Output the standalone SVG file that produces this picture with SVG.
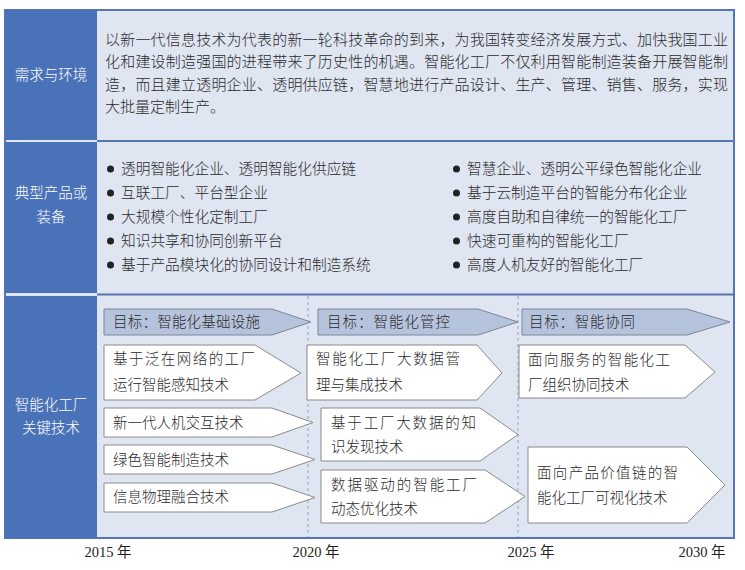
<svg xmlns="http://www.w3.org/2000/svg" width="745" height="570" viewBox="0 0 745 570">
<style>
  .t{font-family:"Liberation Serif","Noto Sans CJK SC",serif;font-size:14.5px;fill:#2a2a2a;font-weight:300}
  .p{font-size:15px}
  .b{font-size:14.7px}
  .lab{font-family:"Liberation Serif","Noto Sans CJK SC",serif;font-size:14.5px;fill:#ffffff;text-anchor:middle;font-weight:300}
  .yr{font-family:"Liberation Serif","Noto Sans CJK SC",serif;font-size:14.5px;fill:#222;text-anchor:middle}
  .goal{fill:#b6c3dd;stroke:#7d8798;stroke-width:1}
  .box{fill:#ffffff;stroke:#8a8a8a;stroke-width:1}
  .blue{fill:#4a72b8}
  .dash{stroke:#8ea2c8;stroke-width:1;stroke-dasharray:3 3;fill:none}
  .sep{stroke:#5775b0;stroke-width:2}
</style>
<rect x="0" y="0" width="745" height="570" fill="#ffffff"/>
<!-- frame -->
<g id="frame">
  <rect x="5" y="10" width="729" height="528" fill="#dfe5f1" stroke="#5775b0" stroke-width="2"/>
  <rect class="blue" x="5" y="10" width="92" height="130"/>
  <rect class="blue" x="5" y="142" width="92" height="151"/>
  <rect class="blue" x="5" y="296" width="92" height="242"/>
  <line class="sep" x1="97" y1="141" x2="734" y2="141"/>
  <line class="sep" x1="97" y1="294.5" x2="734" y2="294.5"/>
</g>
<g id="timeline">
  <line class="dash" x1="308" y1="296" x2="308" y2="537"/>
  <line class="dash" x1="518" y1="296" x2="518" y2="537"/>
</g>
<!-- row 1 -->
<g id="row-demand">
  <text class="lab" x="51" y="80">需求与环境</text>
  <text class="t p" x="105" y="45" textLength="623" lengthAdjust="spacing">以新一代信息技术为代表的新一轮科技革命的到来，为我国转变经济发展方式、加快我国工业</text>
  <text class="t p" x="105" y="67" textLength="623" lengthAdjust="spacing">化和建设制造强国的进程带来了历史性的机遇。智能化工厂不仅利用智能制造装备开展智能制</text>
  <text class="t p" x="105" y="90" textLength="623" lengthAdjust="spacing">造，而且建立透明企业、透明供应链，智慧地进行产品设计、生产、管理、销售、服务，实现</text>
  <text class="t p" x="105" y="112">大批量定制生产。</text>
</g>
<!-- row 2 -->
<g id="row-products">
  <text class="lab" x="51" y="198">典型产品或</text>
  <text class="lab" x="51" y="222">装备</text>
  <g fill="#222">
    <circle cx="110.5" cy="169" r="3.5"/><circle cx="110.5" cy="193" r="3.5"/><circle cx="110.5" cy="217" r="3.5"/><circle cx="110.5" cy="241" r="3.5"/><circle cx="110.5" cy="265" r="3.5"/>
    <circle cx="456.5" cy="169" r="3.5"/><circle cx="456.5" cy="193" r="3.5"/><circle cx="456.5" cy="217" r="3.5"/><circle cx="456.5" cy="241" r="3.5"/><circle cx="456.5" cy="265" r="3.5"/>
  </g>
  <text class="t b" x="121" y="174">透明智能化企业、透明智能化供应链</text>
  <text class="t b" x="121" y="198">互联工厂、平台型企业</text>
  <text class="t b" x="121" y="222">大规模个性化定制工厂</text>
  <text class="t b" x="121" y="246">知识共享和协同创新平台</text>
  <text class="t b" x="121" y="270">基于产品模块化的协同设计和制造系统</text>
  <text class="t b" x="467" y="174">智慧企业、透明公平绿色智能化企业</text>
  <text class="t b" x="467" y="198">基于云制造平台的智能分布化企业</text>
  <text class="t b" x="467" y="222">高度自助和自律统一的智能化工厂</text>
  <text class="t b" x="467" y="246">快速可重构的智能化工厂</text>
  <text class="t b" x="467" y="270">高度人机友好的智能化工厂</text>
</g>
<!-- row 3 -->
<g id="row-tech-label">
  <text class="lab" x="51" y="410">智能化工厂</text>
  <text class="lab" x="51" y="433">关键技术</text>
</g>
<g id="goal-1">
  <polygon class="goal" points="104,309 272,309 311,322 272,335 104,335"/>
  <text class="t" x="113" y="327" textLength="147" lengthAdjust="spacing">目标：智能化基础设施</text>
</g>
<g id="goal-2">
  <polygon class="goal" points="318,309 478,309 518,322 478,335 318,335"/>
  <text class="t" x="327" y="327" textLength="123" lengthAdjust="spacing">目标：智能化管控</text>
</g>
<g id="goal-3">
  <polygon class="goal" points="522,309 687,309 730,322 687,335 522,335"/>
  <text class="t" x="529" y="327" textLength="106" lengthAdjust="spacing">目标：智能协同</text>
</g>
<g id="tech-a">
  <polygon class="box" points="104,345 255,345 301,373 255,400 104,400"/>
  <text class="t" x="113" y="364" textLength="142" lengthAdjust="spacing">基于泛在网络的工厂</text>
  <text class="t" x="113" y="390">运行智能感知技术</text>
</g>
<g id="tech-b">
  <polygon class="box" points="307,345 477,345 502,373 477,400 307,400"/>
  <text class="t" x="316" y="364" textLength="144" lengthAdjust="spacing">智能化工厂大数据管</text>
  <text class="t" x="316" y="390">理与集成技术</text>
</g>
<g id="tech-c">
  <polygon class="box" points="519,345 685,345 715,372 685,398 519,398"/>
  <text class="t" x="528" y="365" textLength="142" lengthAdjust="spacing">面向服务的智能化工</text>
  <text class="t" x="528" y="390">厂组织协同技术</text>
</g>
<g id="tech-d">
  <polygon class="box" points="104,408 272,408 313,422.5 272,437 104,437"/>
  <text class="t" x="113" y="428">新一代人机交互技术</text>
</g>
<g id="tech-e">
  <polygon class="box" points="104,445 272,445 315,459.5 272,474 104,474"/>
  <text class="t" x="113" y="465">绿色智能制造技术</text>
</g>
<g id="tech-f">
  <polygon class="box" points="104,483 272,483 315,497.5 272,512 104,512"/>
  <text class="t" x="113" y="502">信息物理融合技术</text>
</g>
<g id="tech-g">
  <polygon class="box" points="321,408 480,408 518,434.5 480,461 321,461"/>
  <text class="t" x="331" y="428" textLength="145" lengthAdjust="spacing">基于工厂大数据的知</text>
  <text class="t" x="331" y="452">识发现技术</text>
</g>
<g id="tech-h">
  <polygon class="box" points="321,470 485,470 525,496.5 485,523 321,523"/>
  <text class="t" x="331" y="490" textLength="146" lengthAdjust="spacing">数据驱动的智能工厂</text>
  <text class="t" x="331" y="514">动态优化技术</text>
</g>
<g id="tech-i">
  <polygon class="box" points="528,447 687,447 725,485 687,523 528,523"/>
  <text class="t" x="537" y="478" textLength="141" lengthAdjust="spacing">面向产品价值链的智</text>
  <text class="t" x="537" y="503">能化工厂可视化技术</text>
</g>
<g id="years">
  <text class="yr" x="108" y="557">2015 年</text>
  <text class="yr" x="316" y="557">2020 年</text>
  <text class="yr" x="531" y="557">2025 年</text>
  <text class="yr" x="702" y="557">2030 年</text>
</g>
<g id="connectors"/>
</svg>
